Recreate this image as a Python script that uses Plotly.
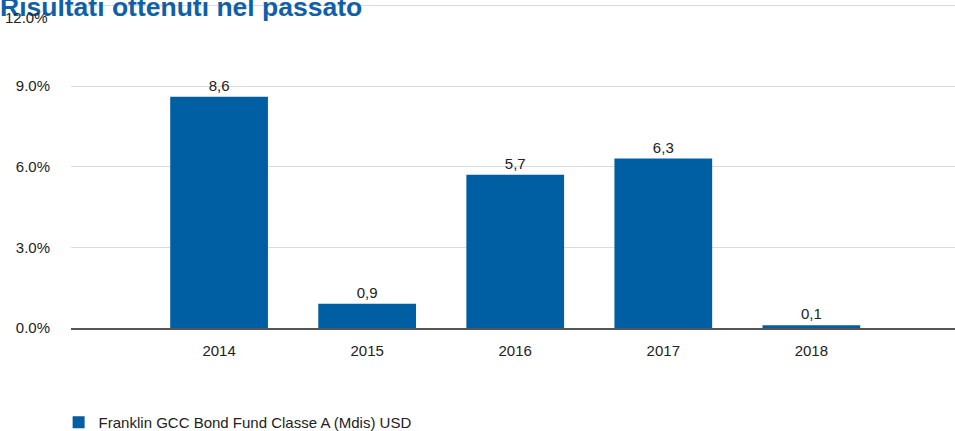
import plotly.graph_objects as go

years = ['2014', '2015', '2016', '2017', '2018']
returns = [8.6, 0.9, 5.7, 6.3, 0.1]
y_ticks = [0, 3, 6, 9, 12]
y_tick_labels = ['0.0%', '3.0%', '6.0%', '9.0%', '12.0%']
fund_name = 'Franklin GCC Bond Fund Classe A (Mdis) USD'
title_text = 'Risultati ottenuti nel passato'

blue = 'rgb(0,94,162)'
font_main = 'Liberation Sans, Arial'
text_col = '#222222'

labels = [('%.1f' % v).replace('.', ',') for v in returns]

bars = go.Bar(
    x=years, y=returns, name=fund_name,
    marker=dict(color=blue, line=dict(width=0)),
    text=labels, textposition='outside', cliponaxis=False,
    textfont=dict(family=font_main, size=15, color=text_col),
    width=0.66,
)

# the top label sits just under its gridline in the original, so it is drawn separately
axis_labels = y_tick_labels[:-1] + ['']

layout = go.Layout(
    width=955, height=431,
    margin=dict(l=71, r=0, t=4, b=103, autoexpand=False),
    plot_bgcolor='white', paper_bgcolor='white',
    xaxis=dict(type='category', range=[-1, 4.97], showgrid=False,
               showline=True, linecolor='#555555', linewidth=1.5,
               ticks='', ticklabelstandoff=8,
               tickfont=dict(family=font_main, size=15, color=text_col)),
    yaxis=dict(range=[0, 12.05], tickvals=y_ticks, ticktext=axis_labels,
               showgrid=True, gridcolor='#dcdcdc', gridwidth=1, zeroline=False,
               ticks='', ticklabelstandoff=20,
               tickfont=dict(family=font_main, size=15, color=text_col)),
    showlegend=True,
    legend=dict(orientation='h', x=-0.014, xanchor='left', y=-0.241, yanchor='top',
                font=dict(family=font_main, size=15, color=text_col)),
    bargap=0.34,
    annotations=[
        dict(text='<b>' + title_text + '</b>', showarrow=False,
             xref='paper', yref='paper', x=-71 / 884, y=0.992,
             xanchor='left', yanchor='middle', xshift=-2,
             font=dict(family=font_main, size=26.5, color='rgb(16,96,168)')),
        dict(text=y_tick_labels[-1], showarrow=False,
             xref='paper', yref='paper', x=-21 / 884, y=0.957,
             xanchor='right', yanchor='middle',
             font=dict(family=font_main, size=15, color=text_col)),
    ],
)

fig = go.Figure(data=[bars], layout=layout)
fig.write_html('out.html', config={'displayModeBar': False},
               post_script="document.body.style.margin='0';")
